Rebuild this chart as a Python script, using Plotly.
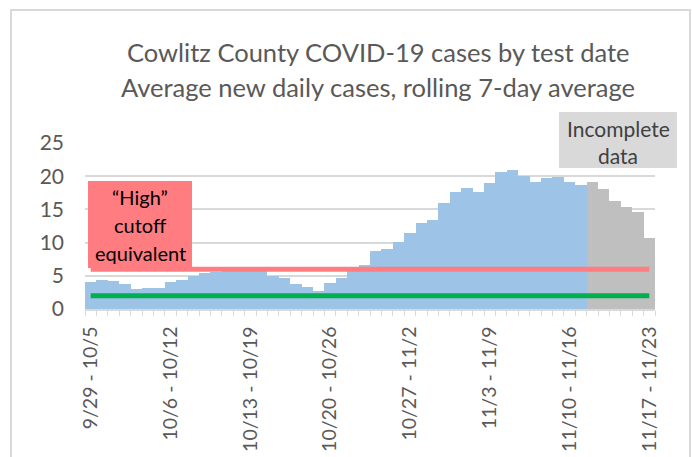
import datetime as dt
import plotly.graph_objects as go

# ---------------- data ----------------
start = dt.date(2020, 9, 29)
categories = []
for i in range(50):
    s = start + dt.timedelta(days=i)
    e = s + dt.timedelta(days=6)
    categories.append(f"{s.month}/{s.day} - {e.month}/{e.day}")

avg_cases = [4.1, 4.35, 4.2, 3.7, 2.95, 3.2, 3.2, 4.1, 4.35, 4.95,
             5.35, 5.6, 6.0, 6.4, 6.0, 5.9, 5.0, 4.7, 3.7, 3.35,
             2.7, 3.95, 4.6, 5.8, 6.6, 8.75, 9.0, 10.1, 11.5, 12.95,
             13.35, 15.95, 17.6, 18.2, 17.6, 18.95, 20.6, 21.0, 20.1, 19.2,
             19.7, 19.85, 19.2, 18.7, 19.1, 18.0, 16.25, 15.35, 14.6, 10.7]

first_incomplete = "11/12 - 11/18"
high_cutoff = [6] * len(categories)
low_cutoff = [2] * len(categories)

tick_labels = ["9/29 - 10/5", "10/6 - 10/12", "10/13 - 10/19", "10/20 - 10/26",
               "10/27 - 11/2", "11/3 - 11/9", "11/10 - 11/16", "11/17 - 11/23"]
y_ticks = [0, 5, 10, 15, 20, 25]

# ---------------- layout geometry (pixels) ----------------
W, H = 692, 457
L, R, T, B = 85, 655, 143, 309
pw, ph = R - L, B - T


def px(x):
    return (x - L) / pw


def py(y):
    return (B - y) / ph


xs = list(range(len(categories)))
inc_idx = categories.index(first_incomplete)
colors = ["#9DC3E6" if i < inc_idx else "#BFBFBF" for i in xs]

FONT = "Lato"
GREY = "#595959"

fig = go.Figure()
fig.add_trace(go.Bar(x=xs, y=avg_cases, marker=dict(color=colors, line=dict(width=0)),
                     hoverinfo="skip", showlegend=False))
fig.add_trace(go.Scatter(x=xs, y=high_cutoff, mode="lines",
                         line=dict(color="#FF7C80", width=5), showlegend=False))
fig.add_trace(go.Scatter(x=xs, y=low_cutoff, mode="lines",
                         line=dict(color="#00B050", width=5), showlegend=False))

fig.update_layout(
    width=W, height=H,
    margin=dict(l=L, r=W - R, t=T, b=H - B),
    paper_bgcolor="white", plot_bgcolor="white",
    bargap=0,
    font=dict(family=FONT, color=GREY),
    xaxis=dict(
        range=[-0.5, len(categories) - 0.5],
        tickmode="array",
        tickvals=[categories.index(t) for t in tick_labels],
        ticktext=tick_labels,
        tickangle=-90,
        ticks="",
        tickfont=dict(size=19.5, color=GREY, family=FONT),
        showgrid=False, zeroline=False,
        showline=True, linecolor="#D9D9D9", linewidth=1.5,
        minor=dict(tickmode="linear", tick0=-0.5, dtick=1, ticks="outside",
                   ticklen=5, tickcolor="#D9D9D9", tickwidth=1, showgrid=False),
        ticklabelstandoff=8,
        automargin=False,
        fixedrange=True,
    ),
    yaxis=dict(
        range=[0, 25],
        tickvals=y_ticks,
        showgrid=True, gridcolor="#D9D9D9", gridwidth=1.5,
        zeroline=False, showline=False, ticks="",
        tickfont=dict(size=21, color=GREY, family=FONT),
        ticklabelstandoff=20,
        automargin=False,
        fixedrange=True,
    ),
)

shapes = [
    # chart border
    dict(type="rect", xref="paper", yref="paper",
         x0=px(11), x1=px(690), y0=py(470), y1=py(10),
         line=dict(color="#D9D9D9", width=2), fillcolor="rgba(0,0,0,0)", layer="above"),
    # "High" cutoff box
    dict(type="rect", xref="paper", yref="paper",
         x0=px(88), x1=px(192), y0=py(268), y1=py(181),
         line=dict(width=0), fillcolor="#FF7C80", layer="above"),
    # Incomplete data box
    dict(type="rect", xref="paper", yref="paper",
         x0=px(559), x1=px(677), y0=py(168), y1=py(112),
         line=dict(width=0), fillcolor="#D9D9D9", layer="above"),
]
fig.update_layout(shapes=shapes)

ann = [
    dict(text="Cowlitz County COVID-19 cases by test date", x=px(378), y=py(52),
         font=dict(size=25.5, color=GREY, family=FONT)),
    dict(text="Average new daily cases, rolling 7-day average", x=px(378), y=py(87),
         font=dict(size=25.5, color=GREY, family=FONT)),
    dict(text="\u201cHigh\u201d", x=px(140), y=py(197), font=dict(size=20, color="black", family=FONT)),
    dict(text="cutoff", x=px(140), y=py(225), font=dict(size=20, color="black", family=FONT)),
    dict(text="equivalent", x=px(140), y=py(253), font=dict(size=20, color="black", family=FONT)),
    dict(text="Incomplete", x=px(618), y=py(128), font=dict(size=21, color="#404040", family=FONT)),
    dict(text="data", x=px(618), y=py(155), font=dict(size=21, color="#404040", family=FONT)),
]
for a in ann:
    a.update(xref="paper", yref="paper", showarrow=False, xanchor="center", yanchor="middle")
fig.update_layout(annotations=ann)

fig.write_html("out.html",
               config={"displayModeBar": False},
               post_script="document.body.style.margin='0';document.body.style.padding='0';")
